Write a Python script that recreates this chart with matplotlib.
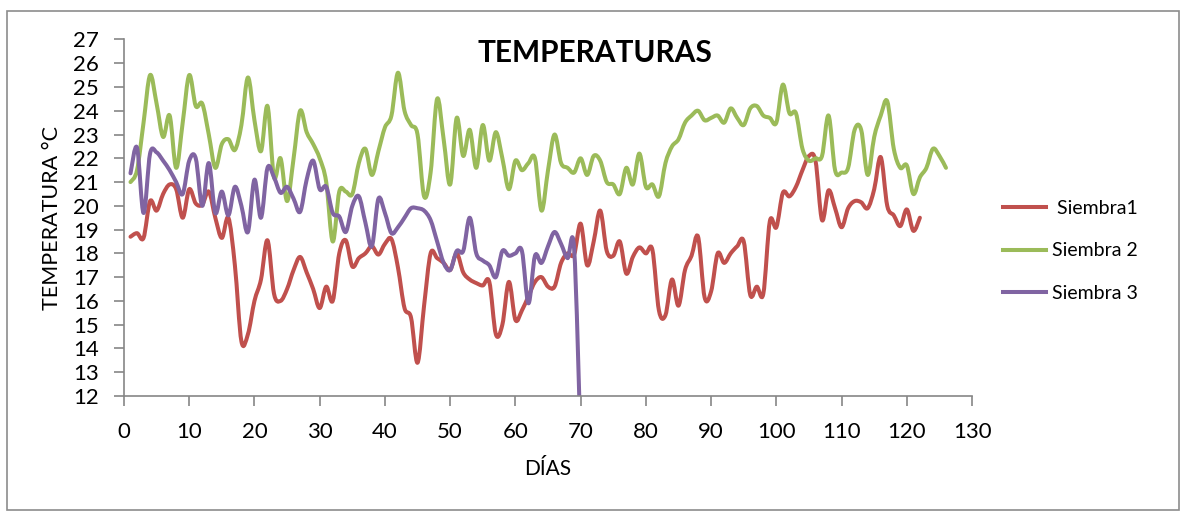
import numpy as np
import matplotlib.pyplot as plt
from matplotlib.path import Path
from matplotlib.patches import PathPatch, Rectangle
from matplotlib.lines import Line2D

plt.rcParams['font.family'] = ['Lato', 'DejaVu Sans']

# temperatura diaria (°C) de cada siembra
siembra1 = [18.7, 18.85, 18.65, 20.2, 19.8, 20.5, 20.9, 20.7, 19.5, 20.7,
            20.1, 20.05, 20.6, 19.5, 18.65, 19.5, 17.5, 14.3, 14.6, 16.0,
            16.9, 18.55, 16.3, 16.0, 16.5, 17.3, 17.85, 17.2, 16.5, 15.7,
            16.6, 16.0, 18.0, 18.55, 17.45, 17.8, 18.0, 18.3, 17.95, 18.4,
            18.6, 17.4, 15.7, 15.3, 13.4, 15.8, 18.0, 17.8, 17.6, 17.3,
            18.0, 17.2, 16.9, 16.75, 16.65, 16.8, 14.6, 15.0, 16.8, 15.2,
            15.6, 16.2, 16.8, 17.0, 16.6, 16.6, 17.6, 18.0, 17.95, 19.25,
            17.5, 18.5, 19.8, 18.1, 17.9, 18.5, 17.15, 17.85, 18.25, 18.0,
            18.15, 15.6, 15.4, 16.9, 15.8, 17.3, 17.9, 18.7, 16.15, 16.4,
            18.0, 17.6, 18.0, 18.3, 18.5, 16.25, 16.6, 16.3, 19.35, 19.1,
            20.55, 20.4, 20.8, 21.5, 22.1, 21.9, 19.4, 20.65, 19.9, 19.1,
            19.9, 20.2, 20.15, 19.9, 20.7, 22.05, 20.0, 19.6, 19.15, 19.85,
            18.95, 19.5]

siembra2 = [21.0, 21.5, 23.5, 25.5, 24.3, 22.9, 23.8, 21.6, 23.5, 25.5,
            24.2, 24.3, 23.0, 21.6, 22.6, 22.8, 22.35, 23.4, 25.4, 23.6,
            22.3, 24.2, 21.2, 22.0, 20.2, 22.0, 24.0, 23.1, 22.6, 22.0,
            21.0, 18.5, 20.6, 20.6, 20.5, 21.8, 22.4, 21.3, 22.3, 23.3,
            23.8, 25.6, 24.0, 23.4, 23.0, 20.4, 21.4, 24.5, 22.8, 20.9,
            23.7, 22.1, 23.2, 21.6, 23.4, 21.9, 23.1, 22.0, 20.7, 21.9,
            21.5, 21.8, 22.0, 19.8, 21.5, 23.0, 21.8, 21.6, 21.4, 22.0,
            21.3, 22.1, 21.9, 21.0, 20.9, 20.5, 21.6, 20.9, 22.2, 20.8,
            20.9, 20.4, 21.8, 22.5, 22.8, 23.5, 23.8, 24.0, 23.6, 23.7,
            23.8, 23.5, 24.1, 23.7, 23.4, 24.1, 24.2, 23.8, 23.7, 23.5,
            25.1, 23.9, 23.9, 22.4, 21.9, 22.0, 22.1, 23.8, 21.5, 21.4,
            21.6, 23.2, 23.2, 21.3, 22.9, 23.8, 24.4, 22.4, 21.6, 21.7,
            20.5, 21.2, 21.6, 22.4, 22.1, 21.6]

siembra3 = [21.37, 22.45, 19.7, 22.2, 22.25, 21.9, 21.5, 21.0, 20.5, 21.9,
            22.0, 20.0, 21.8, 19.7, 20.6, 19.6, 20.8, 20.0, 18.9, 21.1,
            19.5, 21.6, 21.2, 20.55, 20.8, 20.3, 19.75, 21.1, 21.9, 20.7,
            20.8, 19.7, 19.55, 18.9, 20.0, 20.4, 19.3, 18.3, 20.3, 19.7,
            18.85, 19.1, 19.5, 19.9, 19.9, 19.8, 19.4, 18.5, 17.6, 17.3,
            18.1, 18.1, 19.5, 18.0, 17.7, 17.5, 17.0, 18.1, 17.9, 18.0,
            18.1, 15.9, 17.9, 17.6, 18.3, 18.9, 18.4, 17.8, 18.2, 10.0]

series = [
    (' Siembra1', siembra1, '#C0504D'),
    ('Siembra 2', siembra2, '#9BBB59'),
    ('Siembra 3', siembra3, '#8064A2'),
]


def curva_suave(x, y):
    # trazo suavizado tipo Excel (Catmull-Rom pasado a Bezier cubica)
    pts = np.column_stack([x, y]).astype(float)
    ext = np.vstack([pts[0], pts, pts[-1]])
    verts = [pts[0]]
    codes = [Path.MOVETO]
    for i in range(len(pts) - 1):
        p0, p1, p2, p3 = ext[i], ext[i + 1], ext[i + 2], ext[i + 3]
        verts += [p1 + (p2 - p0) / 6, p2 - (p3 - p1) / 6, p2]
        codes += [Path.CURVE4] * 3
    return Path(verts, codes)


fig = plt.figure(figsize=(11.83, 5.14), dpi=100)
fig.patches.append(Rectangle((0.006, 0.008), 0.991, 0.97, transform=fig.transFigure,
                             fill=False, edgecolor='#8c8c8c', linewidth=1.2))
ax = fig.add_axes([0.1048, 0.2296, 0.7169, 0.6936])

handles = []
for nombre, valores, color in series:
    dias = np.arange(1, len(valores) + 1)
    ax.add_patch(PathPatch(curva_suave(dias, valores), fill=False, edgecolor=color,
                           linewidth=2.9, capstyle='round', joinstyle='round'))
    handles.append(Line2D([], [], color=color, linewidth=2.9, label=nombre))

ax.set_xlim(0, 130)
ax.set_ylim(12, 27)
ax.set_xticks(np.arange(0, 131, 10))
ax.set_yticks(np.arange(12, 28, 1))

for lado in ['top', 'right']:
    ax.spines[lado].set_visible(False)
for lado in ['left', 'bottom']:
    ax.spines[lado].set_color('#868686')
    ax.spines[lado].set_linewidth(1.2)
ax.tick_params(axis='both', colors='#868686', labelcolor='black', labelsize=16,
               length=7, width=1.2, direction='out')
ax.tick_params(axis='y', pad=11)
ax.tick_params(axis='x', pad=12)

ax.set_xlabel('DÍAS', fontsize=15, labelpad=12)
ax.set_ylabel('TEMPERATURA °C', fontsize=15.5, labelpad=8)
fig.text(0.503, 0.897, 'TEMPERATURAS', fontsize=21.5, fontweight='bold',
         ha='center', va='center')

fig.legend(handles=handles, loc='center left', bbox_to_anchor=(0.84, 0.512),
           frameon=False, fontsize=14, handlelength=2.2, handletextpad=0.3,
           labelspacing=1.3, borderpad=0)

fig.savefig('out.png', dpi=100)
